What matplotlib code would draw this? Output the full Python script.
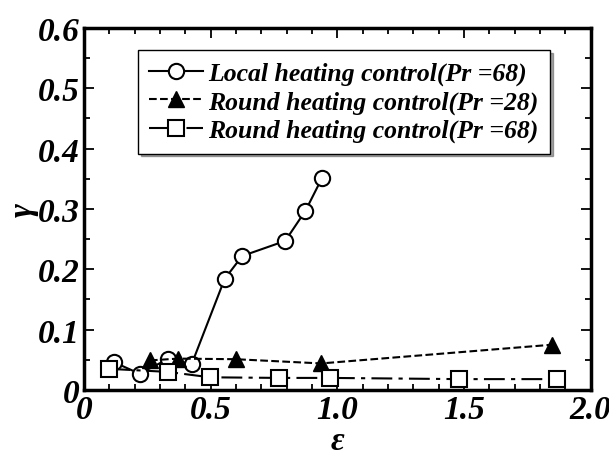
import matplotlib
matplotlib.use("Agg")
import matplotlib.pyplot as plt
from matplotlib.ticker import MultipleLocator, FuncFormatter

plt.rcParams['font.family'] = 'Liberation Serif'
plt.rcParams['font.weight'] = 'bold'
plt.rcParams['font.style'] = 'italic'
plt.rcParams['mathtext.fontset'] = 'custom'
plt.rcParams['mathtext.it'] = 'Liberation Serif:italic:bold'

# local heating control, Pr = 68
x_local = [0.118, 0.219, 0.330, 0.425, 0.555, 0.624, 0.794, 0.874, 0.939]
y_local = [0.046, 0.027, 0.051, 0.043, 0.184, 0.222, 0.247, 0.297, 0.351]

# round heating control, Pr = 28
x_r28 = [0.260, 0.371, 0.598, 0.936, 1.847]
y_r28 = [0.049, 0.052, 0.051, 0.044, 0.075]

# round heating control, Pr = 68
x_r68 = [0.100, 0.330, 0.498, 0.771, 0.970, 1.482, 1.867]
y_r68 = [0.035, 0.030, 0.021, 0.020, 0.020, 0.018, 0.018]

labels = ['Local heating control(Pr =68)',
          'Round heating control(Pr =28)',
          'Round heating control(Pr =68)']

fig = plt.figure(figsize=(6.09, 4.52), dpi=100)
ax = fig.add_axes([0.138, 0.135, 0.832, 0.801])

ax.plot(x_local, y_local, '-', color='black', lw=1.5, marker='o', ms=11,
        mfc='white', mec='black', mew=1.5, label=labels[0])
ax.plot(x_r28, y_r28, '--', color='black', lw=1.5, marker='^', ms=11,
        mfc='black', mec='black', label=labels[1])
ax.plot(x_r68, y_r68, color='black', lw=1.5, dashes=(10, 3, 2, 3), marker='s', ms=11,
        mfc='white', mec='black', mew=1.5, label=labels[2])

ax.set_xlim(0, 2.0)
ax.set_ylim(0, 0.6)
ax.xaxis.set_major_locator(MultipleLocator(0.5))
ax.xaxis.set_minor_locator(MultipleLocator(0.1))
ax.yaxis.set_major_locator(MultipleLocator(0.1))
ax.yaxis.set_minor_locator(MultipleLocator(0.05))
ax.xaxis.set_major_formatter(FuncFormatter(lambda v, p: '0' if abs(v) < 1e-9 else f'{v:.1f}'))
ax.yaxis.set_major_formatter(FuncFormatter(lambda v, p: '0' if abs(v) < 1e-9 else f'{v:.1f}'))

ax.tick_params(which='both', direction='in', top=True, right=True, width=1.3)
ax.tick_params(which='major', length=7, labelsize=24, pad=3)
ax.tick_params(which='minor', length=4)
for s in ax.spines.values():
    s.set_linewidth(2.5)

ax.set_xlabel(r'$\varepsilon$', fontsize=24, labelpad=0)
ax.set_ylabel(r'$\gamma$', fontsize=24, labelpad=-2)

leg = ax.legend(loc='upper left', bbox_to_anchor=(0.106, 0.939), fontsize=18.5,
                frameon=True, fancybox=False, shadow=True, handlelength=2.1,
                handletextpad=0.2, borderpad=0.45, labelspacing=0.2,
                borderaxespad=0)
leg.get_frame().set_edgecolor('black')
leg.get_frame().set_linewidth(1.0)

fig.savefig('out.png', dpi=100)
